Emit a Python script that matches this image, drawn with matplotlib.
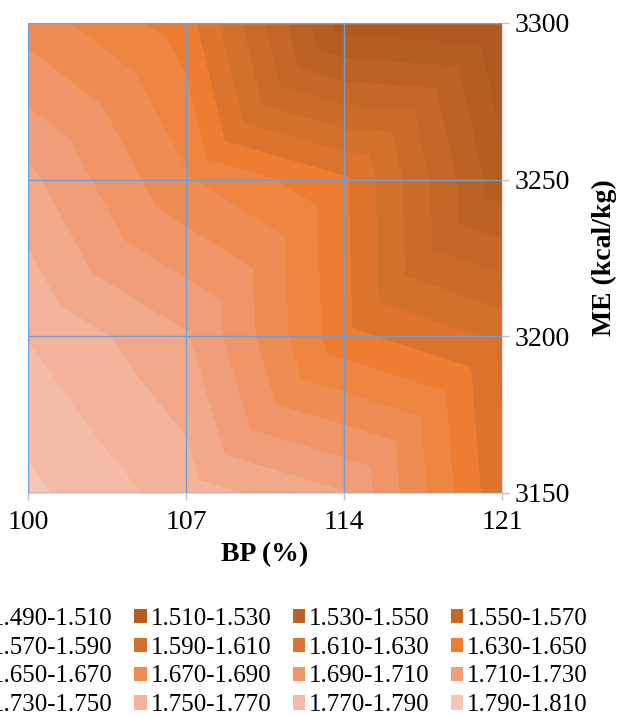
import matplotlib
matplotlib.use("Agg")
import matplotlib.pyplot as plt
import matplotlib.tri as mtri
import numpy as np
from matplotlib.patches import Patch

# Data ------------------------------------------------------------
bp = [100, 107, 114, 121]            # BP (%)
me = [3150, 3200, 3250, 3300]        # ME (kcal/kg)
# response surface, one row per ME level (bottom to top)
fcr_3150 = [1.795, 1.760, 1.731, 1.614]
fcr_3200 = [1.769, 1.732, 1.636, 1.605]
fcr_3250 = [1.735, 1.672, 1.633, 1.516]
fcr_3300 = [1.681, 1.639, 1.500, 1.490]
levels = [1.49, 1.51, 1.53, 1.55, 1.57, 1.59, 1.61, 1.63, 1.65,
          1.67, 1.69, 1.71, 1.73, 1.75, 1.77, 1.79, 1.81]

# Style -----------------------------------------------------------
band_colors = ["#AE5A20", "#B55E22", "#BC6225", "#C46727", "#CB6B29",
               "#D3702B", "#DD742D", "#ED7D31", "#EE8641", "#EE8C54",
               "#EF9567", "#F09E79", "#F1A98A", "#F3B49B", "#F4BCA7",
               "#F5C5B6"]
grid_color = "#6F9FD8"
plt.rcParams["font.family"] = ["Liberation Serif", "DejaVu Serif"]
fs_tick = 20
fs_leg = 18

z = np.array([fcr_3150, fcr_3200, fcr_3250, fcr_3300])
xx, yy = np.meshgrid(bp, me)

# split every grid cell along its lower-left -> upper-right diagonal
nx, ny = len(bp), len(me)
tris = []
for i in range(ny - 1):
    for j in range(nx - 1):
        bl = i * nx + j
        br = bl + 1
        tl = bl + nx
        tr = tl + 1
        tris.append([bl, br, tr])
        tris.append([bl, tr, tl])
tri = mtri.Triangulation(xx.ravel(), yy.ravel(), tris)

fig = plt.figure(figsize=(6.22, 7.17), dpi=100)
ax = fig.add_axes([28 / 622, 1 - 493 / 717, 474 / 622, 470 / 717])

ax.tricontourf(tri, z.ravel(), levels=levels, colors=band_colors)
ax.set_xlim(bp[0], bp[-1])
ax.set_ylim(me[0], me[-1])

ax.set_xticks(bp)
ax.set_yticks(me)
ax.yaxis.tick_right()
ax.yaxis.set_label_position("right")
ax.tick_params(axis="both", labelsize=fs_tick, colors="#BFBFBF", labelcolor="black",
               length=5, width=1)
ax.tick_params(axis="x", pad=7)
ax.tick_params(axis="y", pad=4)
ax.grid(True, color=grid_color, linewidth=1)
ax.set_axisbelow(False)
for s in ax.spines.values():
    s.set_color("#D9D9D9")

ax.set_xlabel("BP (%)", fontsize=fs_tick, fontweight="bold", labelpad=5)
ax.set_ylabel("ME (kcal/kg)", fontsize=fs_tick, fontweight="bold", labelpad=16,
              rotation=90)

# Legend, row-major like the original (first column runs off the page)
labels = ["%.3f-%.3f" % (levels[i], levels[i + 1]) for i in range(len(band_colors))]
handles = [Patch(facecolor=c, edgecolor="none") for c in band_colors]
order = [r * 4 + c for c in range(4) for r in range(4)]
fig.legend([handles[i] for i in order], [labels[i] for i in order],
           loc="upper left", bbox_to_anchor=(-24 / 622, 1 - 608 / 717),
           ncol=4, frameon=False, fontsize=fs_leg, borderpad=0, borderaxespad=0,
           handlelength=0.5, handleheight=0.5, handletextpad=0.15,
           columnspacing=0.85, labelspacing=0.27)

fig.savefig("out.png", dpi=100)
